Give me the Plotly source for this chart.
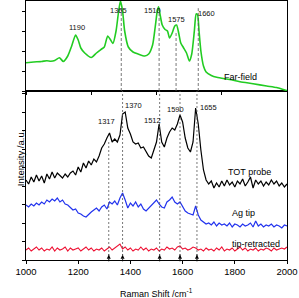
import plotly.graph_objects as go

# ---------------- data ----------------
# Far-field spectrum (top panel), Raman shift (cm-1) and intensity (a.u.)
far_x = [1000, 1030, 1060, 1080, 1095, 1110, 1128, 1143, 1160, 1175, 1190, 1200, 1210, 1225, 1250,
         1270, 1290, 1300, 1313, 1322, 1333, 1345, 1355, 1362, 1370, 1378, 1392, 1410, 1430, 1455,
         1470, 1485, 1495, 1503, 1508, 1514, 1522, 1533, 1542, 1550, 1560, 1570, 1577, 1585, 1593,
         1603, 1615, 1626, 1635, 1645, 1652, 1657, 1663, 1670, 1680, 1690, 1710, 1731, 1780, 1820,
         1870, 1922, 1960, 1992, 2000]
far_y = [28.3, 29, 29.5, 30.3, 29.8, 30.5, 33.3, 29.5, 35, 45, 56, 51, 43, 38, 33.5,
         38, 42, 44, 55, 52, 47.5, 60, 80, 90, 80, 60, 44, 39, 37, 35,
         37, 46, 64, 80, 84.3, 76, 66, 61.5, 60, 53, 58, 65, 66, 58, 48,
         43.5, 38, 30, 37, 60, 77, 76.5, 60, 40, 25, 19, 15.5, 13.7, 11.5, 9.3,
         7.3, 5, 3.5, 1, 0.5]

# Near-field spectra (bottom panel), sampled every 10 cm-1 from 1000 to 2000
near_x = list(range(1000, 2001, 10))
tot_y = [80, 76, 83, 78, 85, 79, 84, 77, 86, 81, 88, 82, 87, 84, 82, 86, 83, 87, 89, 85,
         93, 88, 97, 92, 99, 95, 101, 98, 104, 112, 116, 122, 127, 118, 121, 118, 125, 146, 148, 132,
         126, 118, 116, 117, 112, 113, 108, 104, 102, 110, 118, 136, 118, 113, 122, 128, 132, 130, 136, 145,
         138, 122, 112, 108, 118, 152, 136, 110, 90, 80, 76, 79, 72, 77, 73, 79, 74, 80, 75, 78,
         73, 79, 76, 81, 74, 78, 83, 72, 80, 76, 79, 74, 78, 75, 80, 76, 79, 74, 77, 73, 76]
ag_y = [55, 53, 56, 54, 57, 55, 58, 56, 60, 58, 61, 59, 62, 58, 60, 56, 55, 52, 50, 51,
        47, 46, 44, 43, 46, 48, 50, 52, 49, 53, 55, 51, 58, 56, 59, 55, 62, 67, 60, 52,
        57, 54, 58, 53, 56, 51, 49, 52, 55, 57, 60, 56, 53, 52, 58, 60, 63, 58, 56, 58,
        53, 49, 47, 46, 45, 54, 45, 40, 38, 36, 37, 35, 38, 34, 37, 35, 36, 34, 37, 33,
        36, 35, 33, 36, 34, 35, 37, 33, 39, 34, 36, 33, 35, 34, 36, 33, 35, 34, 32, 35, 34]
ret_y = [10, 12, 9, 11, 13, 10, 12, 9, 11, 10, 13, 9, 12, 10, 11, 13, 9, 12, 10, 11,
         12, 9, 11, 13, 10, 12, 9, 11, 10, 12, 9, 11, 13, 10, 12, 14, 16, 11, 13, 10,
         12, 9, 11, 10, 13, 10, 12, 9, 11, 10, 12, 9, 11, 10, 13, 11, 12, 10, 13, 14,
         11, 12, 10, 11, 13, 12, 10, 11, 9, 12, 10, 11, 9, 12, 10, 13, 9, 11, 10, 12,
         9, 11, 13, 10, 12, 9, 11, 10, 12, 9, 11, 10, 12, 11, 9, 12, 10, 11, 12, 11, 13]

far_peaks = [1190, 1365, 1510, 1575, 1660]
tot_peaks = [1317, 1370, 1512, 1590, 1655]
x_ticks = [1000, 1200, 1400, 1600, 1800, 2000]

FONT = "Liberation Sans, Arial, sans-serif"

fig = go.Figure()
fig.add_trace(go.Scatter(x=far_x, y=far_y, mode="lines", line=dict(color="#22cc22", width=1.6, shape="spline", smoothing=0.6),
                         xaxis="x2", yaxis="y2", showlegend=False, hoverinfo="skip"))
fig.add_trace(go.Scatter(x=near_x, y=ret_y, mode="lines", line=dict(color="#ee1133", width=1.1),
                         showlegend=False, hoverinfo="skip"))
fig.add_trace(go.Scatter(x=near_x, y=ag_y, mode="lines", line=dict(color="#2233ee", width=1.2),
                         showlegend=False, hoverinfo="skip"))
fig.add_trace(go.Scatter(x=near_x, y=tot_y, mode="lines", line=dict(color="#000000", width=1.2),
                         showlegend=False, hoverinfo="skip"))
# small upward arrows marking the TOT peaks at the bottom axis
fig.add_trace(go.Scatter(x=tot_peaks, y=[2.2] * len(tot_peaks), mode="markers",
                         marker=dict(symbol="line-ns", size=5, line=dict(color="#000000", width=1)),
                         showlegend=False, hoverinfo="skip", cliponaxis=False))
fig.add_trace(go.Scatter(x=tot_peaks, y=[5.2] * len(tot_peaks), mode="markers",
                         marker=dict(symbol="arrow-up", size=4, color="#000000"),
                         showlegend=False, hoverinfo="skip", cliponaxis=False))

shapes = []
# dashed guide lines in the top panel
for p in far_peaks[1:]:
    shapes.append(dict(type="line", xref="x2", yref="y2 domain", x0=p, x1=p, y0=0, y1=0.66 if p == 1575 else 0.92,
                       line=dict(color="#555555", width=0.8, dash="3px,2px")))
# dotted guide lines in the bottom panel
for p in tot_peaks:
    shapes.append(dict(type="line", xref="x", yref="y domain", x0=p, x1=p, y0=0, y1=0.71 if p == 1317 else 1,
                       line=dict(color="#555555", width=0.8, dash="2px,2px")))

annotations = []
far_lab_pos = [(1195, 64), (1353, 81), (1483, 81), (1577, 72), (1692, 78)]
for p, (lx, ly) in zip(far_peaks, far_lab_pos):
    annotations.append(dict(x=lx, y=ly, xref="x2", yref="y2", text=str(p), showarrow=False,
                            font=dict(family=FONT, size=7.5, color="#111111")))
tot_lab_pos = [(1309, 138.5), (1411, 155), (1485, 140), (1571, 151), (1698, 153)]
for p, (lx, ly) in zip(tot_peaks, tot_lab_pos):
    annotations.append(dict(x=lx, y=ly, xref="x", yref="y", text=str(p), showarrow=False,
                            font=dict(family=FONT, size=7.5, color="#111111")))

series_labels = [("Far-field", 1820, 14, "x2", "y2"), ("TOT probe", 1855, 88, "x", "y"),
                 ("Ag tip", 1835, 47, "x", "y"), ("tip-retracted", 1880, 16, "x", "y")]
for txt, lx, ly, xr, yr in series_labels:
    annotations.append(dict(x=lx, y=ly, xref=xr, yref=yr, text=txt, showarrow=False,
                            font=dict(family=FONT, size=9, color="#000000")))

annotations.append(dict(x=-0.05, y=0.395, xref="paper", yref="paper", text="Intensity /a.u.", textangle=-90,
                        showarrow=False, font=dict(family=FONT, size=9.5, color="#000000")))
annotations.append(dict(x=0.5, y=-0.095, xref="paper", yref="paper", text="Raman Shift /cm<sup>-1</sup>",
                        showarrow=False, yanchor="top", font=dict(family=FONT, size=9, color="#000000")))

axis_common = dict(showline=True, linecolor="#000000", linewidth=1, mirror=True, showgrid=False, zeroline=False,
                   ticks="outside", ticklen=3, tickcolor="#000000", tickwidth=1, automargin=False)

fig.update_layout(
    width=299, height=298,
    margin=dict(l=26, r=12, t=1, b=38),
    paper_bgcolor="white", plot_bgcolor="white",
    font=dict(family=FONT, size=9, color="#000000"),
    xaxis=dict(domain=[0, 1], range=[1000, 2000], tickvals=x_ticks, anchor="y",
               tickfont=dict(family=FONT, size=9.5), **axis_common),
    yaxis=dict(domain=[0, 0.6525], range=[0, 169], tick0=0, dtick=18.5, showticklabels=False, anchor="x",
               **axis_common),
    xaxis2=dict(domain=[0, 1], range=[1000, 2000], tick0=1000, dtick=250, showticklabels=False, anchor="y2",
                **axis_common),
    yaxis2=dict(domain=[0.6525, 1], range=[0, 90], tick0=0, dtick=20, showticklabels=False, anchor="x2",
                **axis_common),
    shapes=shapes, annotations=annotations,
)

fig.write_html("out.html", config={"displayModeBar": False},
               post_script="document.body.style.margin='0';document.body.style.overflow='hidden';")
